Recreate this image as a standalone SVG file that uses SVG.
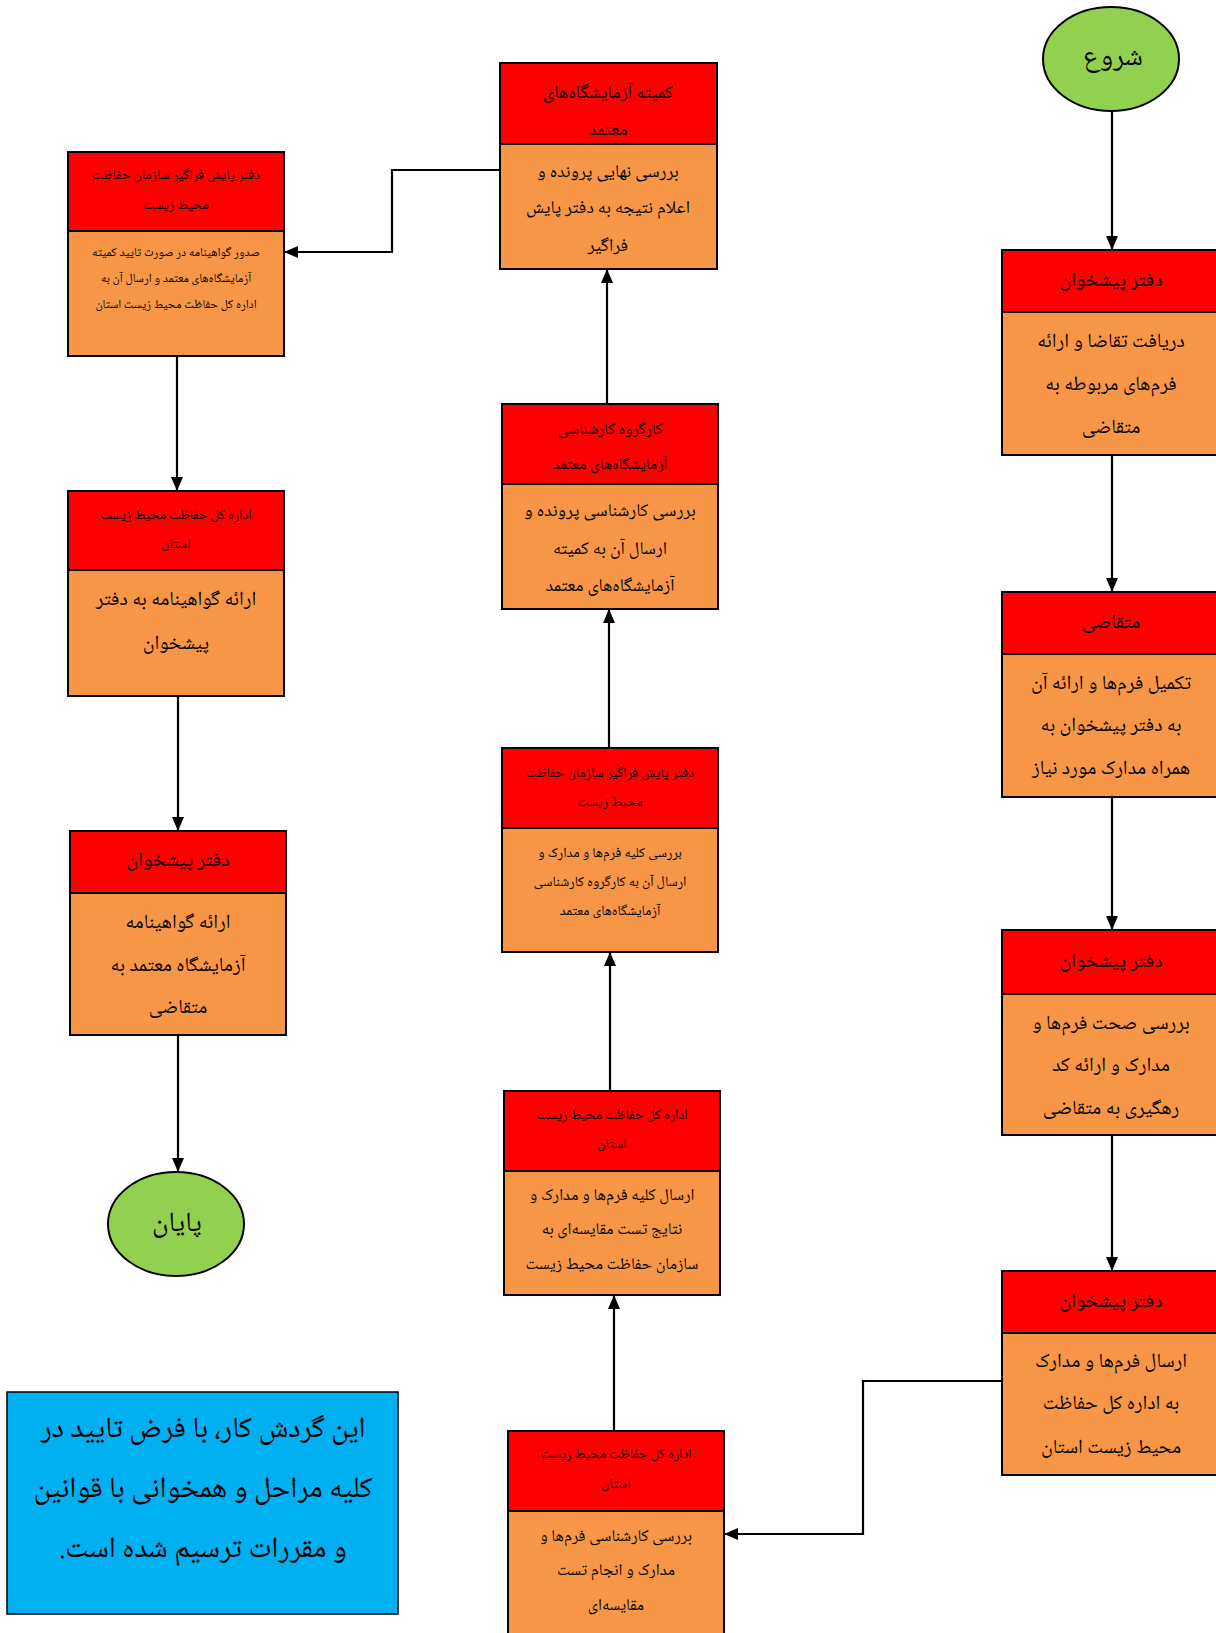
<svg xmlns="http://www.w3.org/2000/svg" width="1216" height="1633" viewBox="0 0 1216 1633">
<defs>
<style>
.hd{fill:#FF0000;stroke:#000;stroke-width:2}
.bd{fill:#F79646;stroke:#000;stroke-width:2}
.el{fill:#92D050;stroke:#000;stroke-width:2}
.cn{fill:none;stroke:#000;stroke-width:2.2}
text{font-family:"Noto Naskh Arabic","Noto Sans Arabic","DejaVu Sans",sans-serif;fill:#000;text-anchor:middle}
.h20{font-size:20px}.h16{font-size:16px}.h18{font-size:18.5px}.h14{font-size:14px}
.b20{font-size:20px}.b18{font-size:18px}.b16{font-size:16.5px}.b14{font-size:14px}.b12{font-size:12.3px}
.big{font-size:28px}.note{font-size:29.5px}
</style>
<marker id="ah" viewBox="0 0 14 12" refX="14" refY="6" markerWidth="14" markerHeight="12" markerUnits="userSpaceOnUse" orient="auto">
<path d="M0,0 L14,6 L0,12 z" fill="#000"/>
</marker>
</defs>
<rect width="1216" height="1633" fill="#fff"/>

<g id="connectors">
<path class="cn" d="M1112,112 V250" marker-end="url(#ah)"/>
<path class="cn" d="M1112,455 V592" marker-end="url(#ah)"/>
<path class="cn" d="M1112,797 V930" marker-end="url(#ah)"/>
<path class="cn" d="M1112,1135 V1271" marker-end="url(#ah)"/>
<path class="cn" d="M1002,1381 H863 V1534 H724" marker-end="url(#ah)"/>
<path class="cn" d="M614,1431 V1295" marker-end="url(#ah)"/>
<path class="cn" d="M610,1091 V952" marker-end="url(#ah)"/>
<path class="cn" d="M609,748 V609" marker-end="url(#ah)"/>
<path class="cn" d="M607,404 V269" marker-end="url(#ah)"/>
<path class="cn" d="M500,170 H392 V252 H284" marker-end="url(#ah)"/>
<path class="cn" d="M177,356 V491" marker-end="url(#ah)"/>
<path class="cn" d="M178,696 V831" marker-end="url(#ah)"/>
<path class="cn" d="M178,1035 V1172" marker-end="url(#ah)"/>
</g>

<g id="start">
<ellipse class="el" cx="1111" cy="59" rx="68" ry="52"/>
<text class="big" x="1113" y="65">شروع</text>
</g>

<g id="r1">
<rect class="hd" x="1002" y="250" width="218" height="62"/>
<rect class="bd" x="1002" y="312" width="218" height="143"/>
<text class="h20" x="1111" y="286">دفتر پیشخوان</text>
<text class="b20" x="1111" y="347">دریافت تقاضا و ارائه</text>
<text class="b20" x="1111" y="390">فرم‌های مربوطه به</text>
<text class="b20" x="1111" y="433">متقاضی</text>
</g>

<g id="r2">
<rect class="hd" x="1002" y="592" width="218" height="62"/>
<rect class="bd" x="1002" y="654" width="218" height="143"/>
<text class="h20" x="1111" y="628">متقاضی</text>
<text class="b20" x="1111" y="689">تکمیل فرم‌ها و ارائه آن</text>
<text class="b20" x="1111" y="731">به دفتر پیشخوان به</text>
<text class="b20" x="1111" y="774">همراه مدارک مورد نیاز</text>
</g>

<g id="r3">
<rect class="hd" x="1002" y="930" width="218" height="64"/>
<rect class="bd" x="1002" y="994" width="218" height="141"/>
<text class="h20" x="1111" y="967">دفتر پیشخوان</text>
<text class="b20" x="1111" y="1029">بررسی صحت فرم‌ها و</text>
<text class="b20" x="1111" y="1071">مدارک و ارائه کد</text>
<text class="b20" x="1111" y="1114">رهگیری به متقاضی</text>
</g>

<g id="r4">
<rect class="hd" x="1002" y="1271" width="218" height="62"/>
<rect class="bd" x="1002" y="1333" width="218" height="142"/>
<text class="h20" x="1111" y="1307">دفتر پیشخوان</text>
<text class="b20" x="1111" y="1367">ارسال فرم‌ها و مدارک</text>
<text class="b20" x="1111" y="1409">به اداره کل حفاظت</text>
<text class="b20" x="1111" y="1453">محیط زیست استان</text>
</g>

<g id="m5">
<rect class="hd" x="508" y="1431" width="216" height="80"/>
<rect class="bd" x="508" y="1511" width="216" height="140"/>
<text class="h14" x="616" y="1458">اداره کل حفاظت محیط زیست</text>
<text class="h14" x="616" y="1488">استان</text>
<text class="b16" x="616" y="1541">بررسی کارشناسی فرم‌ها و</text>
<text class="b16" x="616" y="1575">مدارک و انجام تست</text>
<text class="b16" x="616" y="1610">مقایسه‌ای</text>
</g>

<g id="m4">
<rect class="hd" x="504" y="1091" width="216" height="80"/>
<rect class="bd" x="504" y="1171" width="216" height="124"/>
<text class="h14" x="612" y="1119">اداره کل حفاظت محیط زیست</text>
<text class="h14" x="612" y="1148">استان</text>
<text class="b16" x="612" y="1200">ارسال کلیه فرم‌ها و مدارک و</text>
<text class="b16" x="612" y="1234">نتایج تست مقایسه‌ای به</text>
<text class="b16" x="612" y="1269">سازمان حفاظت محیط زیست</text>
</g>

<g id="m3">
<rect class="hd" x="502" y="748" width="216" height="80"/>
<rect class="bd" x="502" y="828" width="216" height="124"/>
<text class="h14" x="610" y="777">دفتر پایش فراگیر سازمان حفاظت</text>
<text class="h14" x="610" y="806">محیط زیست</text>
<text class="b14" x="610" y="857">بررسی کلیه فرم‌ها و مدارک و</text>
<text class="b14" x="610" y="886">ارسال آن به کارگروه کارشناسی</text>
<text class="b14" x="610" y="915">آزمایشگاه‌های معتمد</text>
</g>

<g id="m2">
<rect class="hd" x="502" y="404" width="216" height="80"/>
<rect class="bd" x="502" y="484" width="216" height="125"/>
<text class="h16" x="610" y="434">کارگروه کارشناسی</text>
<text class="h16" x="610" y="469">آزمایشگاه‌های معتمد</text>
<text class="b18" x="610" y="516">بررسی کارشناسی پرونده و</text>
<text class="b18" x="610" y="554">ارسال آن به کمیته</text>
<text class="b18" x="610" y="591">آزمایشگاه‌های معتمد</text>
</g>

<g id="m1">
<rect class="hd" x="500" y="63" width="217" height="81"/>
<rect class="bd" x="500" y="144" width="217" height="125"/>
<text class="h18" x="608" y="98">کمیته آزمایشگاه‌های</text>
<text class="h18" x="608" y="135">معتمد</text>
<text class="b18" x="608" y="177">بررسی نهایی پرونده و</text>
<text class="b18" x="608" y="213">اعلام نتیجه به دفتر پایش</text>
<text class="b18" x="608" y="251">فراگیر</text>
</g>

<g id="l1">
<rect class="hd" x="68" y="152" width="216" height="79"/>
<rect class="bd" x="68" y="231" width="216" height="125"/>
<text class="h14" x="176" y="179">دفتر پایش فراگیر سازمان حفاظت</text>
<text class="h14" x="176" y="209">محیط زیست</text>
<text class="b12" x="176" y="256">صدور گواهینامه در صورت تایید کمیته</text>
<text class="b12" x="176" y="282">آزمایشگاه‌های معتمد و ارسال آن به</text>
<text class="b12" x="176" y="308">اداره کل حفاظت محیط زیست استان</text>
</g>

<g id="l2">
<rect class="hd" x="68" y="491" width="216" height="79"/>
<rect class="bd" x="68" y="570" width="216" height="126"/>
<text class="h14" x="176" y="519">اداره کل حفاظت محیط زیست</text>
<text class="h14" x="176" y="548">استان</text>
<text class="b20" x="176" y="605">ارائه گواهینامه به دفتر</text>
<text class="b20" x="176" y="649">پیشخوان</text>
</g>

<g id="l3">
<rect class="hd" x="70" y="831" width="216" height="62"/>
<rect class="bd" x="70" y="893" width="216" height="142"/>
<text class="h20" x="178" y="866">دفتر پیشخوان</text>
<text class="b20" x="178" y="928">ارائه گواهینامه</text>
<text class="b20" x="178" y="971">آزمایشگاه معتمد به</text>
<text class="b20" x="178" y="1013">متقاضی</text>
</g>

<g id="end">
<ellipse class="el" cx="176" cy="1224" rx="68" ry="52"/>
<text class="big" x="177" y="1231">پایان</text>
</g>

<g id="note">
<rect x="7" y="1392" width="391" height="222" fill="#00B0F0" stroke="#000" stroke-width="1.5"/>
<text class="note" x="203" y="1437" direction="rtl">این گردش کار، با فرض تایید در</text>
<text class="note" x="203" y="1497" direction="rtl">کلیه مراحل و همخوانی با قوانین</text>
<text class="note" x="203" y="1557" direction="rtl">و مقررات ترسیم شده است.</text>
</g>
</svg>
